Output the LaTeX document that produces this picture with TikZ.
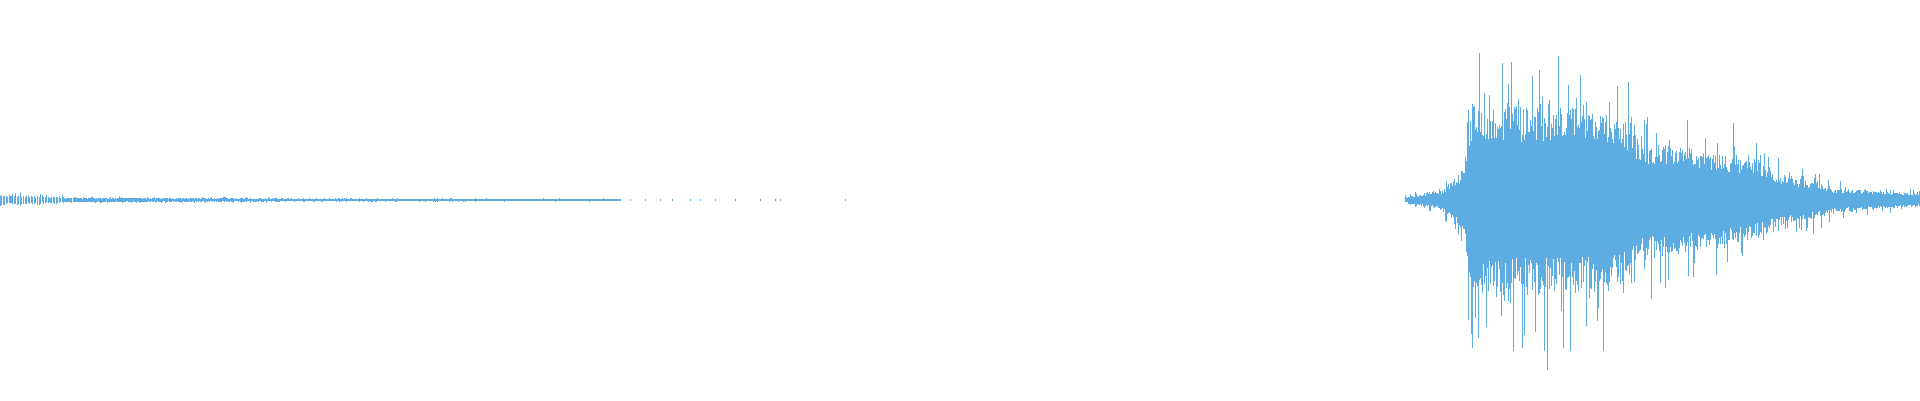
\documentclass[tikz,border=0pt]{standalone}
\definecolor{wave}{RGB}{93,173,226}
\newcommand\wseg[4]{\foreach \x in {#1,...,#2}{%
 \pgfmathsetmacro\e{#3+(#4-#3)*(\x-#1)/(#2-#1)}%
 \pgfmathsetmacro\u{\e*(0.6+0.4*rnd+0.9*rnd^10)}%
 \pgfmathsetmacro\d{\e*(0.6+0.4*rnd+0.9*rnd^10)}%
 \draw (\x/100,2-\d/100)--(\x/100,2+\u/100);}}
\begin{document}
\begin{tikzpicture}[wave/.style={draw=wave,line width=0.01cm}]
\useasboundingbox (0,0) rectangle (19.2,4);
\pgfmathsetseed{42}
\begin{scope}[wave]
\wseg{0}{60}{5}{3}
\wseg{61}{300}{2.5}{1.5}
\wseg{301}{620}{1.5}{1.0}
\foreach \x in {630,645,660,672,690,700,715,735,760,775,780,845}{\draw (\x/100,1.99)--(\x/100,2.01);}
\wseg{1405}{1440}{3}{10}
\wseg{1441}{1462}{10}{30}
\wseg{1463}{1472}{30}{100}
\wseg{1473}{1560}{100}{92}
\wseg{1561}{1630}{95}{82}
\wseg{1631}{1636}{82}{62}
\wseg{1637}{1700}{60}{52}
\wseg{1701}{1765}{52}{36}
\wseg{1766}{1830}{30}{14}
\wseg{1831}{1920}{12}{7}
\end{scope}
\end{tikzpicture}
\end{document}
